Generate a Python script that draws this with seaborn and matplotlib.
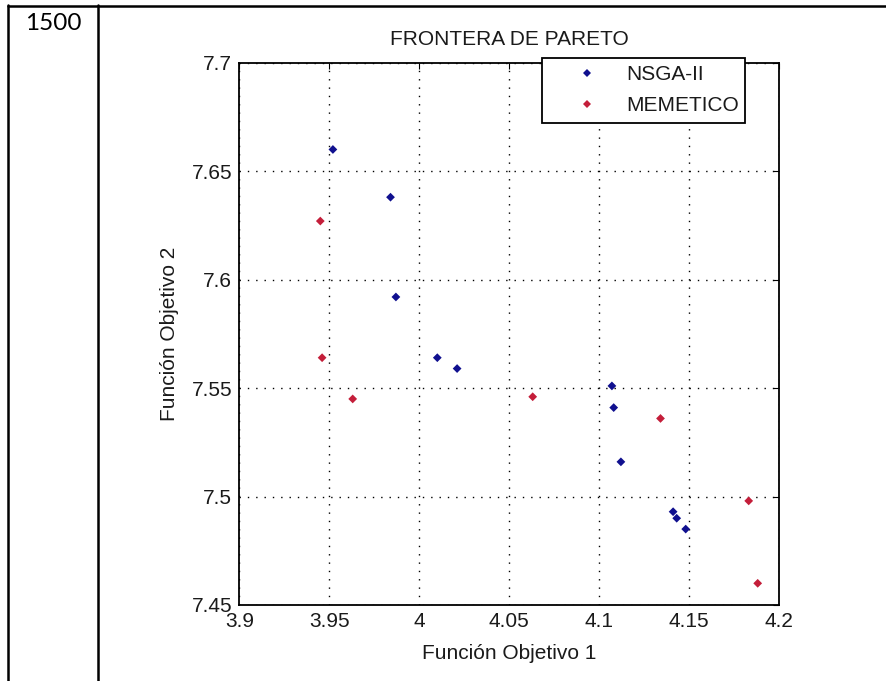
import matplotlib
matplotlib.use("Agg")
import matplotlib.pyplot as plt
import seaborn as sns
import pandas as pd
from matplotlib.lines import Line2D

# ---- data ----
nsga_x = [3.952, 3.984, 3.987, 4.010, 4.021, 4.107, 4.108, 4.112, 4.141, 4.143, 4.148]
nsga_y = [7.660, 7.638, 7.592, 7.564, 7.559, 7.551, 7.541, 7.516, 7.493, 7.490, 7.485]
meme_x = [3.945, 3.946, 3.963, 4.063, 4.134, 4.183, 4.188]
meme_y = [7.627, 7.564, 7.545, 7.546, 7.536, 7.498, 7.460]
series_names = ["NSGA-II", "MEMETICO"]
xticks = [3.9, 3.95, 4.0, 4.05, 4.1, 4.15, 4.2]
xtick_labels = ["3.9", "3.95", "4", "4.05", "4.1", "4.15", "4.2"]
yticks = [7.45, 7.5, 7.55, 7.6, 7.65, 7.7]
ytick_labels = ["7.45", "7.5", "7.55", "7.6", "7.65", "7.7"]
title = "FRONTERA DE PARETO"
xlabel = "Función Objetivo 1"
ylabel = "Función Objetivo 2"
cell_label = "1500"

df = pd.DataFrame({
    "x": nsga_x + meme_x,
    "y": nsga_y + meme_y,
    "serie": [series_names[0]] * len(nsga_x) + [series_names[1]] * len(meme_x),
})

sns.set_theme(style="white")
plt.rcParams["font.family"] = ["Liberation Sans", "DejaVu Sans"]

W, H = 886, 681
fig = plt.figure(figsize=(W / 100, H / 100), dpi=100)
fig.patch.set_facecolor("white")

# axes placement (pixel coords of reference)
ax_l, ax_r, ax_t, ax_b = 239.3, 779.3, 62.7, 605.0
ax = fig.add_axes([ax_l / W, 1 - ax_b / H, (ax_r - ax_l) / W, (ax_b - ax_t) / H])

palette = {"NSGA-II": "#10108f", "MEMETICO": "#c41e3a"}
sns.scatterplot(data=df, x="x", y="y", hue="serie", palette=palette,
                marker="D", s=20, linewidth=0, ax=ax, legend=False, zorder=3)

ax.set_xlim(3.9, 4.2)
ax.set_ylim(7.45, 7.7)
ax.set_xticks(xticks)
ax.set_xticklabels(xtick_labels)
ax.set_yticks(yticks)
ax.set_yticklabels(ytick_labels)

txt_col = "#1a1a1a"
fs = 15
ax.tick_params(direction="in", top=True, right=True, length=4, width=0.8,
               colors="black", labelcolor=txt_col, labelsize=fs)
ax.tick_params(axis="x", pad=5)
ax.tick_params(axis="y", pad=5)
ax.grid(True, color="black", linestyle=(0, (1, 5)), linewidth=1.0)
for sp in ax.spines.values():
    sp.set_visible(True)
    sp.set_color("black")
    sp.set_linewidth(1.3)

ax.set_title(title, fontsize=fs, color=txt_col, pad=13)
ax.set_xlabel(xlabel, fontsize=fs, color=txt_col)
ax.set_ylabel(ylabel, fontsize=fs, color=txt_col)
ax.xaxis.set_label_coords(0.5, -0.072)
ax.yaxis.set_label_coords(-0.112, 0.5)

handles = [Line2D([], [], linestyle="none", marker="D", markersize=4.3,
                  markerfacecolor=palette[n], markeredgewidth=0, label=n)
           for n in series_names]
x0 = (541.7 - ax_l) / (ax_r - ax_l)
x1 = (745.0 - ax_l) / (ax_r - ax_l)
ytop = (ax_b - 57.5) / (ax_b - ax_t)
leg = ax.legend(handles=handles, loc="upper left",
                bbox_to_anchor=(x0, ytop - 0.2, x1 - x0, 0.2), mode="expand",
                borderaxespad=0, fontsize=fs, frameon=True, fancybox=False,
                edgecolor="black", framealpha=1, borderpad=0.38,
                handlelength=3.6, handletextpad=0.1, labelspacing=0.55)
leg.get_frame().set_linewidth(1.3)
leg.set_zorder(10)
for t in leg.get_texts():
    t.set_color(txt_col)

# table frame lines (figure pixel coords)
def fx(p):
    return p / W

def fy(p):
    return 1 - p / H

fig.add_artist(Line2D([fx(8), fx(886)], [fy(5.7), fy(5.7)], color="black", linewidth=1.8))
fig.add_artist(Line2D([fx(8.3), fx(8.3)], [fy(5), fy(681)], color="black", linewidth=1.8))
fig.add_artist(Line2D([fx(97.7), fx(97.7)], [fy(5), fy(681)], color="black", linewidth=1.8))
fig.text(fx(53.5), fy(13), cell_label, fontsize=17.5, family=["Lato", "DejaVu Sans"],
         ha="center", va="top", color="black")

fig.savefig("out.png", dpi=100)
